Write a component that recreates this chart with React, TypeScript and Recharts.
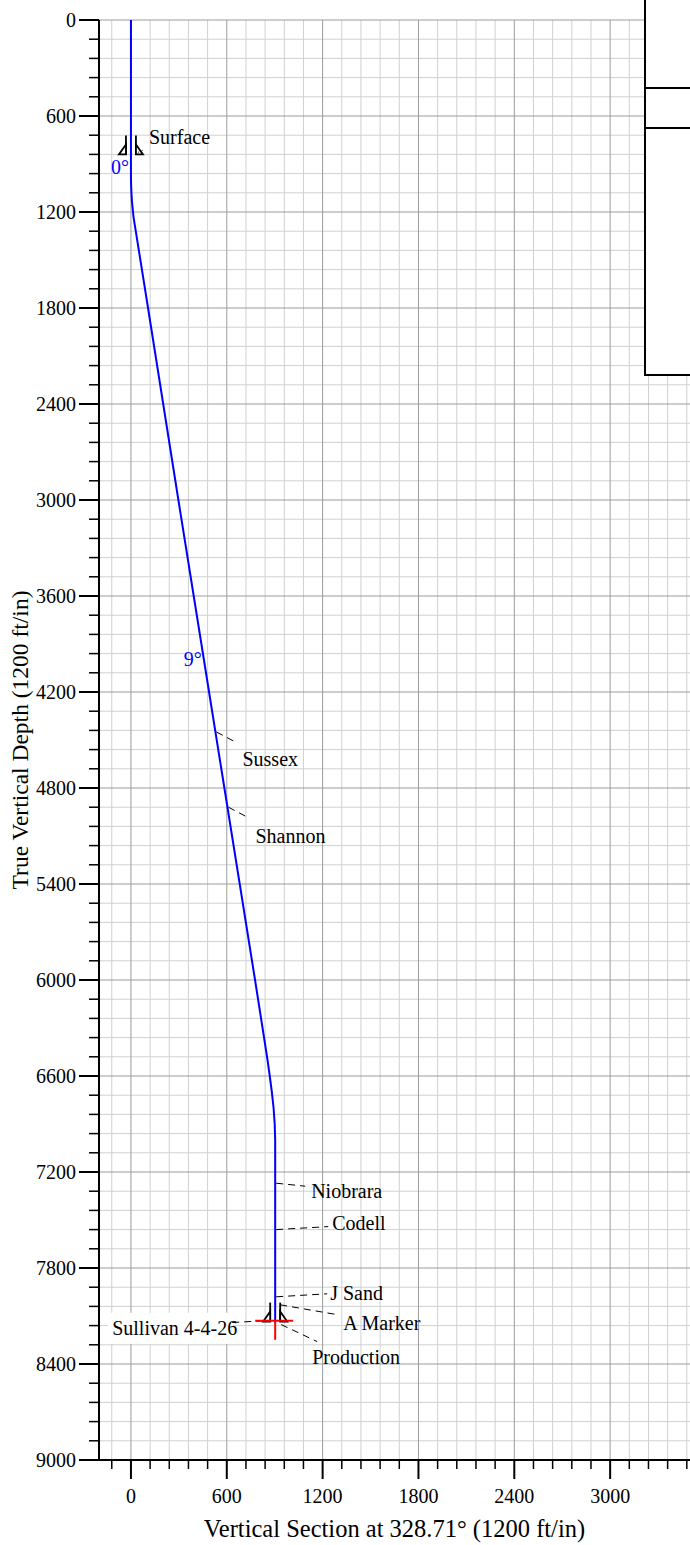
import React from "react"
import { ComposedChart, Line, Scatter, XAxis, YAxis, ReferenceLine } from "recharts"

const FONT = "'Liberation Serif', 'Times New Roman', serif"

// well path, vertical section (ft) against true vertical depth (ft)
const pathVs = [0, 0, 1, 3, 6, 11, 16, 24, 107, 202, 297, 393, 489, 585, 681, 777, 824, 855, 869, 882, 893, 900, 903, 903]
const pathTvd = [0, 980, 1030, 1080, 1130, 1180, 1230, 1280, 1800, 2400, 3000, 3600, 4200, 4800, 5400, 6000, 6300, 6500, 6600, 6700, 6800, 6900, 7000, 8140]

// formation tops
const formationNames = ["Sussex", "Shannon", "Niobrara", "Codell", "J Sand", "A Marker"]
const formationTvd = [4450, 4920, 7270, 7560, 7980, 8030]
const formationVs = [529, 604, 903, 903, 903, 903]

// casing shoes
const casingNames = ["Surface", "Production"]
const casingTvd = [840, 8135]
const casingVs = [0, 903]

// target
const targetNames = ["Sullivan 4-4-26"]
const targetTvd = [8130]
const targetVs = [903]

// inclination annotations
const angleLabels = ["0°", "9°"]
const angleTvd = [920, 3995]
const angleVs = [0, 456]

const xTicks: number[] = []
for (let v = -120; v <= 3480; v += 120) xTicks.push(v)
const yTicks: number[] = []
for (let v = 0; v <= 9000; v += 120) yTicks.push(v)

const pathData = pathVs.map((vs, i) => ({ vs, tvd: pathTvd[i] }))
const formationData = formationNames.map((name, i) => ({ name, vs: formationVs[i], tvd: formationTvd[i] }))
const casingData = casingNames.map((name, i) => ({ name, vs: casingVs[i], tvd: casingTvd[i] }))
const targetData = targetNames.map((name, i) => ({ name, vs: targetVs[i], tvd: targetTvd[i] }))
const angleData = angleLabels.map((name, i) => ({ name, vs: angleVs[i], tvd: angleTvd[i] }))

// leader line and label placement in px, relative to the point on the path
const labelLayout: Record<string, { l: number[]; tx: number; ty: number; dotted?: boolean }> = {
  Surface: { l: [7, -2, 14, -5], tx: 18, ty: -17, dotted: true },
  Production: { l: [6, 3, 42, 20], tx: 37, ty: 35 },
  Sussex: { l: [1, 0, 20, 10], tx: 27, ty: 27 },
  Shannon: { l: [1, 0, 20, 10], tx: 28, ty: 29 },
  Niobrara: { l: [1, 0, 30, 3], tx: 36, ty: 8 },
  Codell: { l: [1, 0, 53, -3], tx: 57, ty: -7 },
  "J Sand": { l: [1, 0, 52, -3], tx: 55, ty: -4 },
  "A Marker": { l: [5, 0, 63, 10], tx: 68, ty: 18 },
}

const MAJOR = "#9c9c9c"
const MINOR = "#d0d0d0"

function XTick(props: any) {
  const { x, y, payload } = props
  const major = payload.value % 600 === 0
  return (
    <g>
      <line x1={x} y1={y} x2={x} y2={y + (major ? 19 : 9)} stroke="#000" strokeWidth={major ? 2 : 1.5} />
      {major && (
        <text x={x} y={y + 43} textAnchor="middle" fontSize={20} fontFamily={FONT} fill="#000" stroke="none">
          {payload.value}
        </text>
      )}
    </g>
  )
}

function YTick(props: any) {
  const { x, y, payload } = props
  const major = payload.value % 600 === 0
  return (
    <g>
      <line x1={x - (major ? 20 : 10)} y1={y} x2={x} y2={y} stroke="#000" strokeWidth={major ? 2 : 1.5} />
      {major && (
        <text x={x - 23} y={y + 7} textAnchor="end" fontSize={20} fontFamily={FONT} fill="#000" stroke="none">
          {payload.value}
        </text>
      )}
    </g>
  )
}

function XTitle(props: any) {
  const vb = props.viewBox || { x: 99, y: 1460, width: 591 }
  return (
    <text x={vb.x + vb.width / 2} y={vb.y + 77} textAnchor="middle" fontSize={24.5} fontFamily={FONT} fill="#000" stroke="none">
      Vertical Section at 328.71° (1200 ft/in)
    </text>
  )
}

function YTitle(props: any) {
  const vb = props.viewBox || { x: 0, y: 20, height: 1440 }
  const cy = vb.y + vb.height / 2
  return (
    <text x={28} y={cy} transform={`rotate(-90, 28, ${cy})`} textAnchor="middle" fontSize={23.5} fontFamily={FONT} fill="#000" stroke="none">
      True Vertical Depth (1200 ft/in)
    </text>
  )
}

function LeaderLabel(props: any) {
  const { cx, cy, payload } = props
  const lay = labelLayout[payload.name]
  if (!lay) return <g />
  const [x1, y1, x2, y2] = lay.l
  return (
    <g>
      <line x1={cx + x1} y1={cy + y1} x2={cx + x2} y2={cy + y2} stroke="#000" strokeWidth={1} strokeDasharray={lay.dotted ? "1 3" : "7 5"} />
      <text x={cx + lay.tx} y={cy + lay.ty + 7} fontSize={20} fontFamily={FONT} fill="#000" stroke="none">
        {payload.name}
      </text>
    </g>
  )
}

function CasingShoe(props: any) {
  const { cx, cy } = props
  return (
    <g>
      <g stroke="#000" strokeWidth={1.8} fill="#fff">
        <line x1={cx - 5} y1={cy - 19} x2={cx - 5} y2={cy} />
        <path d={`M${cx - 5},${cy - 10} L${cx - 12},${cy} L${cx - 5},${cy} Z`} />
        <line x1={cx + 5} y1={cy - 19} x2={cx + 5} y2={cy} />
        <path d={`M${cx + 5},${cy - 10} L${cx + 12},${cy} L${cx + 5},${cy} Z`} />
      </g>
      <LeaderLabel {...props} />
    </g>
  )
}

function Target(props: any) {
  const { cx, cy, payload } = props
  return (
    <g>
      <rect x={cx - 167} y={cy - 8} width={125} height={31} fill="#fff" stroke="none" />
      <text x={cx - 38} y={cy + 14} textAnchor="end" fontSize={20} fontFamily={FONT} fill="#000" stroke="none">
        {payload.name}
      </text>
      <line x1={cx - 12} y1={cy} x2={cx - 48} y2={cy + 2} stroke="#000" strokeWidth={1} strokeDasharray="7 5" />
      <line x1={cx - 20} y1={cy} x2={cx + 18} y2={cy} stroke="#ff0000" strokeWidth={2} />
      <line x1={cx} y1={cy} x2={cx} y2={cy + 19} stroke="#ff0000" strokeWidth={2} />
    </g>
  )
}

function AngleLabel(props: any) {
  const { cx, cy, payload } = props
  return (
    <text x={cx - 2} y={cy + 7} textAnchor="end" fontSize={20} fontFamily={FONT} fill="#0000ff" stroke="none">
      {payload.name}
    </text>
  )
}

export default function App() {
  return (
    <div style={{ position: "absolute", left: 0, top: 0, width: 690, height: 1545, background: "#fff", fontFamily: FONT }}>
      <ComposedChart width={690} height={1545} margin={{ top: 20, right: 0, bottom: 0, left: 0 }}>
        {xTicks.filter((v) => v % 600 !== 0).map((v) => (
          <ReferenceLine key={"xm" + v} x={v} stroke={MINOR} strokeWidth={1} zIndex={-60} />
        ))}
        {yTicks.filter((v) => v % 600 !== 0).map((v) => (
          <ReferenceLine key={"ym" + v} y={v} stroke={MINOR} strokeWidth={1} zIndex={-60} />
        ))}
        {xTicks.filter((v) => v % 600 === 0).map((v) => (
          <ReferenceLine key={"xM" + v} x={v} stroke={MAJOR} strokeWidth={1} zIndex={-50} />
        ))}
        {yTicks.filter((v) => v % 600 === 0).map((v) => (
          <ReferenceLine key={"yM" + v} y={v} stroke={MAJOR} strokeWidth={1} zIndex={-50} />
        ))}
        <XAxis
          type="number"
          dataKey="vs"
          domain={[-200, 3500]}
          allowDataOverflow
          ticks={xTicks}
          interval={0}
          height={85}
          tickSize={0}
          tickMargin={0}
          tickLine={false}
          axisLine={{ stroke: "#000", strokeWidth: 2 }}
          tick={XTick}
          label={{ content: XTitle }}
        />
        <YAxis
          type="number"
          dataKey="tvd"
          domain={[0, 9000]}
          reversed
          allowDataOverflow
          ticks={yTicks}
          interval={0}
          width={99}
          tickSize={0}
          tickMargin={0}
          tickLine={false}
          axisLine={{ stroke: "#000", strokeWidth: 2 }}
          tick={YTick}
          label={{ content: YTitle }}
        />
        <Line data={pathData} dataKey="tvd" type="linear" stroke="#0000ff" strokeWidth={2} dot={false} activeDot={false} isAnimationActive={false} />
        <Scatter data={formationData} shape={LeaderLabel} isAnimationActive={false} />
        <Scatter data={casingData} shape={CasingShoe} isAnimationActive={false} />
        <Scatter data={targetData} shape={Target} isAnimationActive={false} />
        <Scatter data={angleData} shape={AngleLabel} isAnimationActive={false} />
      </ComposedChart>
      <svg width={690} height={400} style={{ position: "absolute", left: 0, top: 0, pointerEvents: "none" }}>
        <rect x={645} y={-5} width={60} height={380} fill="#fff" stroke="#000" strokeWidth={2} />
        <line x1={645} y1={88} x2={690} y2={88} stroke="#000" strokeWidth={2} />
        <line x1={645} y1={128} x2={690} y2={128} stroke="#000" strokeWidth={2} />
      </svg>
    </div>
  )
}
